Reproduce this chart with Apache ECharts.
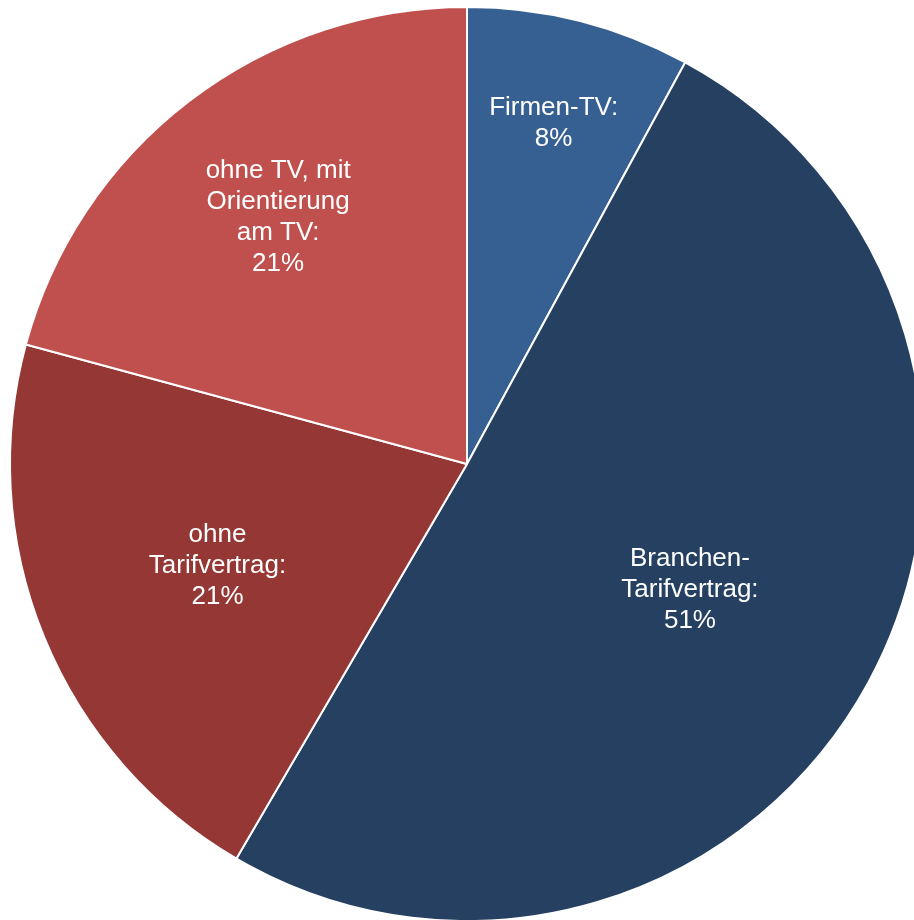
<!DOCTYPE html>
<html>
<head>
<meta charset="utf-8">
<title>Tarifbindung</title>
<script src="https://cdn.jsdelivr.net/npm/echarts@6/dist/echarts.min.js"></script>
<style>
  html, body { margin: 0; padding: 0; background: #ffffff; }
  #chart { width: 914px; height: 920px; }
</style>
</head>
<body>
<div id="chart"></div>
<script>
// Slice names (line breaks as they are set in the labels) and their shares in percent
const categories = ['Firmen-TV', 'Branchen-\nTarifvertrag', 'ohne\nTarifvertrag', 'ohne TV, mit\nOrientierung\nam TV'];
const shares = [8, 51, 21, 21];

// Slice fills
const sliceColors = ['#376092', '#254061', '#953735', '#C0504D'];
// How far out along the radius each label sits (fraction of the radius)
const labelDepth = [0.77, 0.56, 0.59, 0.68];

const CX = 467, CY = 464, R = 457;
const total = shares.reduce((a, b) => a + b, 0);

const chart = echarts.init(document.getElementById('chart'), null, { renderer: 'canvas' });

chart.setOption({
  animation: false,
  backgroundColor: '#ffffff',
  series: [{
    type: 'pie',
    center: [CX, CY],
    radius: [0, R],
    startAngle: 90,
    clockwise: true,
    silent: true,
    itemStyle: { borderColor: '#ffffff', borderWidth: 2 },
    label: {
      show: true,
      position: 'inside',
      formatter: '{b}:\n{c}%',
      color: '#ffffff',
      fontFamily: 'Liberation Sans, Arial, sans-serif',
      fontSize: 26,
      lineHeight: 31,
      align: 'center'
    },
    labelLine: { show: false },
    // place each label on its slice's bisector at the chosen depth
    labelLayout: function (p) {
      let before = 0;
      for (let i = 0; i < p.dataIndex; i++) before += shares[i];
      const mid = (before + shares[p.dataIndex] / 2) / total * 2 * Math.PI;
      const r = R * labelDepth[p.dataIndex];
      return {
        x: CX + r * Math.sin(mid),
        y: CY - r * Math.cos(mid),
        align: 'center',
        verticalAlign: 'middle'
      };
    },
    data: categories.map((name, i) => ({
      name: name,
      value: shares[i],
      itemStyle: { color: sliceColors[i] }
    }))
  }]
});
</script>
</body>
</html>
